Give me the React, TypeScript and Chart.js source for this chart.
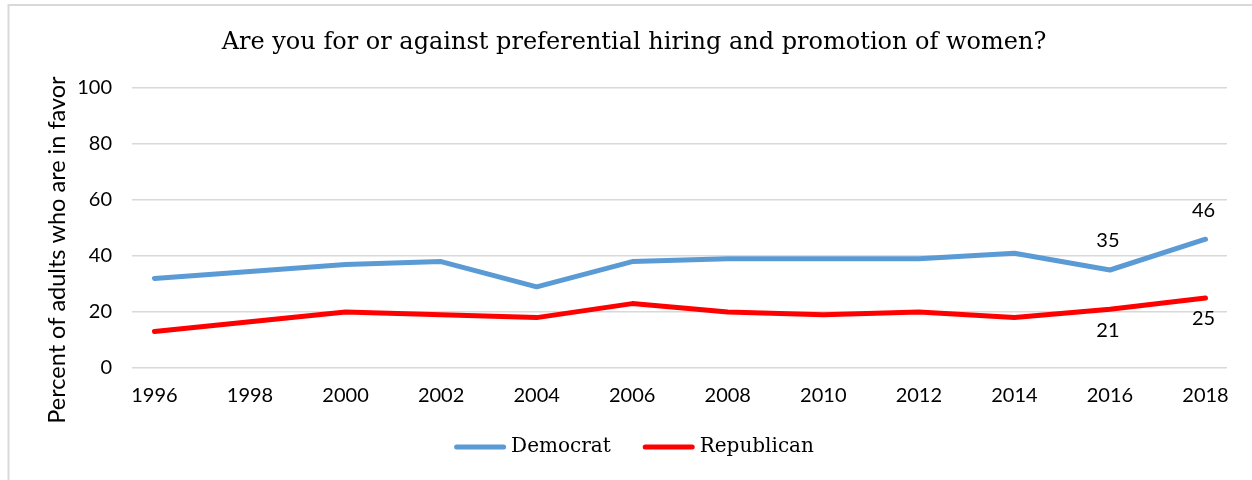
import React, { useEffect, useRef } from "react";
import { Chart, registerables } from "chart.js";

Chart.register(...registerables);

const TITLE = "Are you for or against preferential hiring and promotion of women?";
const Y_TITLE = "Percent of adults who are in favor";
const YEARS = [1996, 1998, 2000, 2002, 2004, 2006, 2008, 2010, 2012, 2014, 2016, 2018];
const DEMOCRAT = [32, null, 37, 38, 29, 38, 39, 39, 39, 41, 35, 46];
const REPUBLICAN = [13, null, 20, 19, 18, 23, 20, 19, 20, 18, 21, 25];
const DEM_LABELED = [10, 11];
const REP_LABELED = [10, 11];
const SERIES_NAMES = ["Democrat", "Republican"];
const COLORS = ["#5B9BD5", "#FF0000"];
const Y_TICKS = [0, 20, 40, 60, 80, 100];

const SLAB = "'DejaVu Serif', serif";
const SANS = "Lato, 'Open Sans', sans-serif";

const decorPlugin = {
  id: "decor",
  beforeDraw(chart: any) {
    const ctx = chart.ctx;
    ctx.save();
    ctx.fillStyle = "#ffffff";
    ctx.fillRect(0, 0, chart.width, chart.height);
    ctx.strokeStyle = "#d9d9d9";
    ctx.lineWidth = 2;
    ctx.beginPath();
    ctx.moveTo(8.5, chart.height + 5);
    ctx.lineTo(8.5, 5);
    ctx.lineTo(chart.width + 5, 5);
    ctx.stroke();
    ctx.restore();
  },
  afterDatasetsDraw(chart: any) {
    const ctx = chart.ctx;
    ctx.save();
    ctx.font = `20px ${SANS}`;
    ctx.fillStyle = "#000";
    ctx.textAlign = "center";
    ctx.textBaseline = "middle";
    const dem = chart.getDatasetMeta(0).data;
    DEM_LABELED.forEach((i) => {
      const p = dem[i];
      ctx.fillText(String(DEMOCRAT[i]), p.x - 2, p.y - 29);
    });
    const rep = chart.getDatasetMeta(1).data;
    REP_LABELED.forEach((i) => {
      const p = rep[i];
      ctx.fillText(String(REPUBLICAN[i]), p.x - 2, p.y + 21);
    });
    ctx.restore();
  },
  afterDraw(chart: any) {
    const ctx = chart.ctx;
    const cx = 634;
    ctx.save();
    ctx.fillStyle = "#000";
    // y-axis title
    ctx.save();
    ctx.translate(57.5, 250);
    ctx.rotate(-Math.PI / 2);
    ctx.font = `23.5px ${SANS}`;
    ctx.textAlign = "center";
    ctx.textBaseline = "middle";
    ctx.fillText(Y_TITLE, 0, 0);
    ctx.restore();
    // title
    ctx.font = `24px ${SLAB}`;
    ctx.textAlign = "center";
    ctx.textBaseline = "middle";
    ctx.fillText(TITLE, cx, 43);
    // legend
    ctx.font = `20px ${SLAB}`;
    const lineLen = 52;
    const gap = 5;
    const spacing = 32;
    const widths = SERIES_NAMES.map((n) => ctx.measureText(n).width);
    const total =
      widths.reduce((a, w) => a + lineLen + gap + w, 0) + spacing * (SERIES_NAMES.length - 1);
    let x = cx - total / 2;
    const y = 447;
    SERIES_NAMES.forEach((n, i) => {
      ctx.strokeStyle = COLORS[i];
      ctx.lineWidth = 5;
      ctx.lineCap = "round";
      ctx.beginPath();
      ctx.moveTo(x + 2.5, y);
      ctx.lineTo(x + lineLen - 2.5, y);
      ctx.stroke();
      ctx.textAlign = "left";
      ctx.fillStyle = "#000";
      ctx.fillText(n, x + lineLen + gap, y);
      x += lineLen + gap + widths[i] + spacing;
    });
    ctx.restore();
  },
};

export default function App() {
  const ref = useRef<HTMLCanvasElement>(null);
  useEffect(() => {
    if (!ref.current) return;
    const chart = new Chart(ref.current, {
      type: "line",
      data: {
        datasets: [
          {
            label: SERIES_NAMES[0],
            data: YEARS.map((yr, i) => ({ x: yr, y: DEMOCRAT[i] })) as any,
            borderColor: COLORS[0],
            backgroundColor: COLORS[0],
            borderWidth: 5,
            borderCapStyle: "round",
            borderJoinStyle: "round",
            pointRadius: 0,
            spanGaps: true,
            tension: 0,
          },
          {
            label: SERIES_NAMES[1],
            data: YEARS.map((yr, i) => ({ x: yr, y: REPUBLICAN[i] })) as any,
            borderColor: COLORS[1],
            backgroundColor: COLORS[1],
            borderWidth: 5,
            borderCapStyle: "round",
            borderJoinStyle: "round",
            pointRadius: 0,
            spanGaps: true,
            tension: 0,
          },
        ],
      },
      options: {
        responsive: false,
        animation: false,
        devicePixelRatio: 1,
        layout: { padding: { top: 88, right: 25, left: 0, bottom: 0 } },
        plugins: {
          legend: { display: false },
          title: { display: false },
          tooltip: { enabled: false },
        },
        scales: {
          x: {
            type: "linear",
            min: YEARS[0] - 0.47,
            max: YEARS[YEARS.length - 1] + 0.45,
            afterBuildTicks: (axis: any) => {
              axis.ticks = YEARS.map((v) => ({ value: v }));
            },
            afterFit: (axis: any) => {
              axis.height = 112;
            },
            grid: { display: false, drawTicks: false },
            border: { display: false },
            ticks: {
              autoSkip: false,
              maxRotation: 0,
              padding: 16,
              color: "#000",
              font: { family: SANS, size: 20 },
              callback: (v: any) => String(v),
            },
          },
          y: {
            min: 0,
            max: 100,
            afterBuildTicks: (axis: any) => {
              axis.ticks = Y_TICKS.map((v) => ({ value: v }));
            },
            afterFit: (axis: any) => {
              axis.width = 132;
            },
            grid: { color: "#d9d9d9", lineWidth: 1.5, drawTicks: false },
            border: { display: false },
            ticks: {
              padding: 20,
              color: "#000",
              font: { family: SANS, size: 20 },
              callback: (v: any) => String(v),
            },
          },
        },
      },
      plugins: [decorPlugin],
    });
    return () => chart.destroy();
  }, []);
  return (
    <div style={{ position: "fixed", left: 0, top: 0, width: 1252, height: 480, background: "#fff" }}>
      <canvas ref={ref} width={1252} height={480} style={{ width: 1252, height: 480, display: "block" }} />
    </div>
  );
}
